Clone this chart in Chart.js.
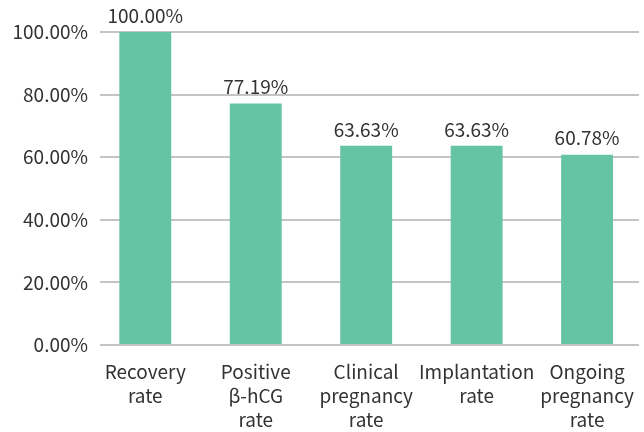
<!DOCTYPE html>
<html>
<head>
<meta charset="utf-8">
<script src="https://cdn.jsdelivr.net/npm/chart.js@4.4.0/dist/chart.umd.min.js"></script>
<style>
  html, body { margin: 0; padding: 0; background: #fff; }
  #wrap { width: 644px; height: 432px; }
</style>
</head>
<body>
<div id="wrap"><canvas id="myChart"></canvas></div>
<script>
// dados do gráfico
const categories = [
    ["Recovery", "rate"],
    ["Positive", "β-hCG", "rate"],
    ["Clinical", "pregnancy", "rate"],
    ["Implantation", "rate"],
    ["Ongoing", "pregnancy", "rate"]
];
const rates = [100.00, 77.19, 63.63, 63.63, 60.78];
const yTicks = [0, 20, 40, 60, 80, 100];

const fonte = '"Noto Sans CJK SC"';

// rótulos em cima das barras
const barLabels = {
    id: 'barLabels',
    afterDatasetsDraw(chart) {
        const ctx = chart.ctx;
        const meta = chart.getDatasetMeta(0);
        ctx.save();
        ctx.font = '19px ' + fonte;
        ctx.fillStyle = '#333333';
        ctx.textAlign = 'center';
        ctx.textBaseline = 'bottom';
        meta.data.forEach((bar, i) => {
            ctx.fillText(rates[i].toFixed(2) + '%', bar.x, bar.y - 7);
        });
        ctx.restore();
    }
};

// eixo x linear para posicionar as barras como no original
const points = rates.map((v, i) => ({x: i, y: v}));

const config = {
    type: 'bar',
    data: {
        datasets: [
            {backgroundColor: "#64c4a4",
             data: points,
             barPercentage: 0.47,
             categoryPercentage: 1
            }
        ]},
    options: {
      responsive: true,
      maintainAspectRatio: false,
      animation: false,
      layout: {
          padding: {top: 32, right: 5, left: 4, bottom: 0}
      },
      plugins: {
          legend: {
              display: false,
          },
          tooltip: {
              enabled: false
          }
      },
      scales: {
          x: {
              type: 'linear',
              offset: false,
              min: -0.41,
              max: 4.47,
              afterBuildTicks: (axis) => {
                  axis.ticks = categories.map((c, i) => ({value: i}));
              },
              afterFit: (axis) => {
                  axis.height = 87;
              },
              grid: {
                  display: false
              },
              border: {
                  display: false
              },
              ticks: {
                  color: '#333333',
                  maxRotation: 0,
                  autoSkip: false,
                  padding: 7,
                  callback: (v) => categories[v],
                  font: {
                      family: 'Noto Sans CJK SC',
                      size: 19,
                      lineHeight: 1.26
                  },
              },
          },
          y: {
            min: 0,
            max: 100,
            afterBuildTicks: (axis) => {
                axis.ticks = yTicks.map(v => ({value: v}));
            },
            afterFit: (axis) => {
                axis.width = 96;
            },
            border: {
                display: false
            },
            grid: {
                color: '#c4c4c8',
                lineWidth: 2,
                drawTicks: false
            },
              ticks: {
                color: '#333333',
                padding: 12,
                font: {
                    family: 'Noto Sans CJK SC',
                    size: 19
                },
                callback: (v) => v.toFixed(2) + '%'
              },
          },
      }
  },
  plugins: [barLabels]
};

const ctx = document.getElementById('myChart');
const myChart = new Chart(ctx, config)
</script>
</body>
</html>
